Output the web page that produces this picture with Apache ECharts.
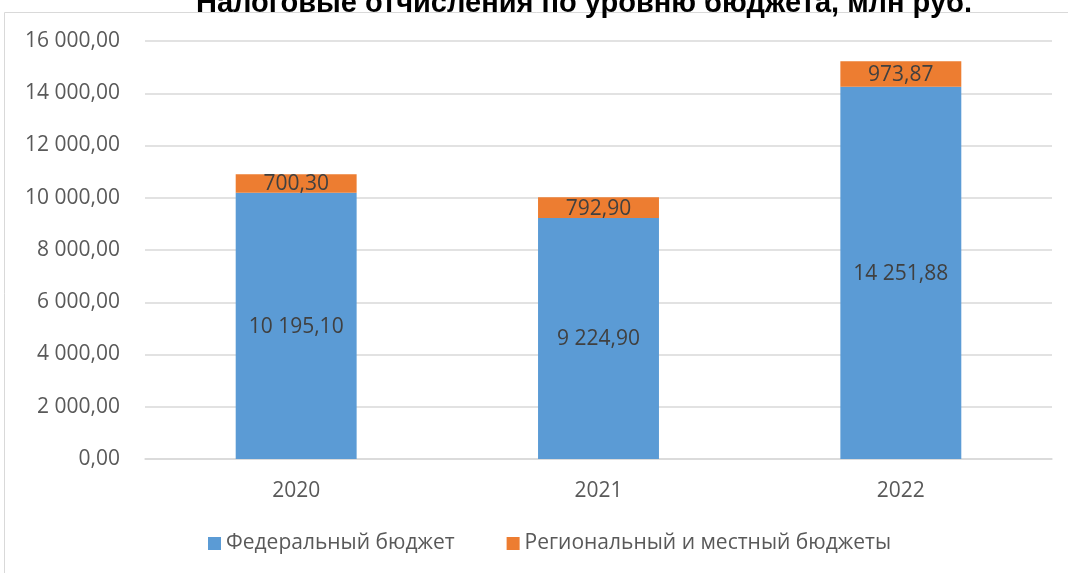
<!DOCTYPE html>
<html>
<head>
<meta charset="utf-8">
<script src="https://cdn.jsdelivr.net/npm/echarts@6/dist/echarts.min.js"></script>
<style>
  html, body { margin: 0; padding: 0; background: #fff; }
  #chart { width: 1068px; height: 573px; }
</style>
</head>
<body>
<div id="chart"></div>
<script>
// Налоговые отчисления по уровню бюджета
const years = ['2020', '2021', '2022'];
const federal = [10195.10, 9224.90, 14251.88];
const regional = [700.30, 792.90, 973.87];
const seriesNames = ['Федеральный бюджет', 'Региональный и местный бюджеты'];
const titleText = 'Налоговые отчисления по уровню бюджета, млн руб.';

const FONT = '"Open Sans", Lato, sans-serif';
const FS = 21;

function fmt(v) {
  const parts = v.toFixed(2).split('.');
  const int = parts[0].replace(/\B(?=(\d{3})+(?!\d))/g, ' ');
  return int + ',' + parts[1];
}

const chart = echarts.init(document.getElementById('chart'));
chart.setOption({
  animation: false,
  backgroundColor: '#fff',
  title: {
    text: titleText,
    left: 579,
    textAlign: 'center',
    top: -16,
    textStyle: { fontFamily: 'Liberation Sans, Arial, sans-serif', fontWeight: 'bold', fontSize: 29, color: '#000' }
  },
  graphic: [{
    type: 'rect',
    shape: { x: 4.5, y: 12.5, width: 1200, height: 700 },
    style: { fill: 'none', stroke: '#d9d9d9', lineWidth: 1 },
    silent: true,
    z: -1
  }],
  legend: {
    bottom: 19,
    left: 208,
    padding: 0,
    itemWidth: 13,
    itemHeight: 13,
    itemGap: 52,
    icon: 'rect',
    textStyle: { fontFamily: FONT, fontSize: FS, color: '#595959' },
    data: seriesNames
  },
  grid: { left: 145, right: 16, top: 41, bottom: 114 },
  xAxis: {
    type: 'category',
    data: years,
    axisLine: { lineStyle: { color: '#d9d9d9', width: 1.5 } },
    axisTick: { show: false },
    axisLabel: { fontFamily: FONT, fontSize: FS, color: '#595959', margin: 22 }
  },
  yAxis: {
    type: 'value',
    min: 0,
    max: 16000,
    interval: 2000,
    axisLine: { show: false },
    axisTick: { show: false },
    splitLine: { lineStyle: { color: '#d9d9d9', width: 1.5 } },
    axisLabel: { fontFamily: FONT, fontSize: FS, color: '#595959', margin: 25, formatter: v => fmt(v) }
  },
  series: [
    {
      name: seriesNames[0],
      type: 'bar',
      stack: 'total',
      barWidth: '40%',
      data: federal,
      itemStyle: { color: '#5B9BD5' },
      label: { show: true, position: 'inside', offset: [0, 1], fontFamily: FONT, fontSize: FS, color: '#404040', formatter: p => fmt(p.value) }
    },
    {
      name: seriesNames[1],
      type: 'bar',
      stack: 'total',
      data: regional,
      itemStyle: { color: '#ED7D31' },
      label: { show: true, position: 'inside', offset: [0, 1], fontFamily: FONT, fontSize: FS, color: '#404040', formatter: p => fmt(p.value) }
    }
  ]
});
</script>
</body>
</html>
